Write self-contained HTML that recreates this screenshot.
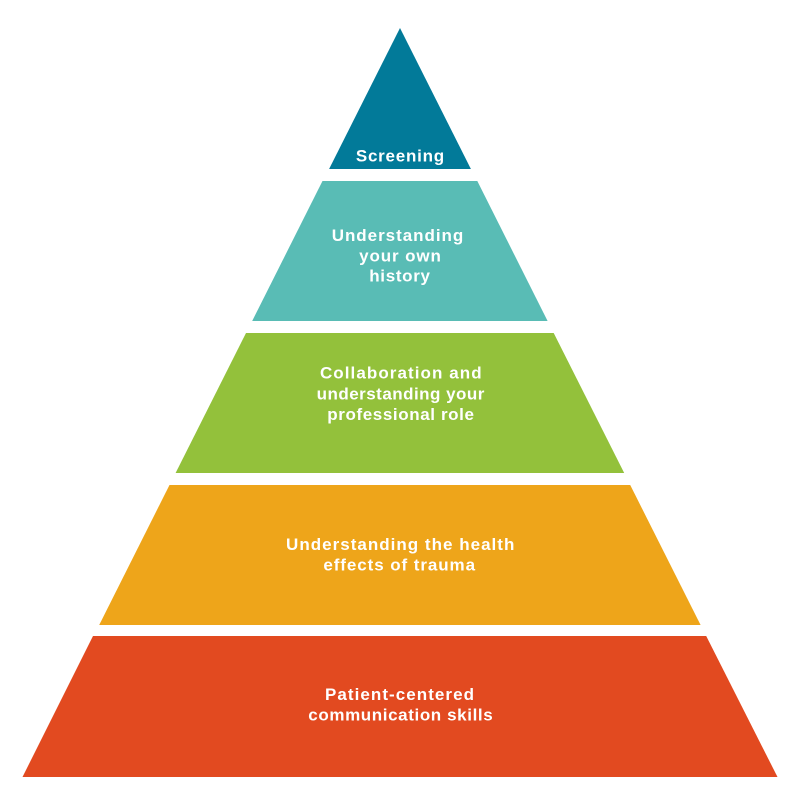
<!DOCTYPE html>
<html>
<head>
<meta charset="utf-8">
<style>
  html, body { margin: 0; padding: 0; background: #ffffff; }
  svg { display: block; }
  text { font-family: "Liberation Sans", sans-serif; font-weight: bold; font-size: 17px; fill: #ffffff; }
</style>
</head>
<body>
<svg width="800" height="800" viewBox="0 0 800 800" xmlns="http://www.w3.org/2000/svg">
  <rect width="800" height="800" fill="#ffffff"/>
  <polygon points="400,28 470.9,169 329.1,169" fill="#027A99"/>
  <polygon points="322.5,181 477.3,181 547.6,321 252.2,321" fill="#59BCB5"/>
  <polygon points="246,333 553.7,333 624.2,473 175.6,473" fill="#93C13B"/>
  <polygon points="169.5,485 630.2,485 700.6,625 99.2,625" fill="#EEA51A"/>
  <polygon points="93,636 706.2,636 777.5,777 22.5,777" fill="#E24A20"/>

  <text x="400" y="161.7" text-anchor="middle" textLength="88.3" lengthAdjust="spacing">Screening</text>

  <text x="397.5" y="241" text-anchor="middle" textLength="131.6" lengthAdjust="spacing">Understanding</text>
  <text x="400" y="261.5" text-anchor="middle" textLength="81.7" lengthAdjust="spacing">your own</text>
  <text x="399.6" y="281.7" text-anchor="middle" textLength="60.7" lengthAdjust="spacing">history</text>

  <text x="400.8" y="378.5" text-anchor="middle" textLength="161.7" lengthAdjust="spacing">Collaboration and</text>
  <text x="400.5" y="399.5" text-anchor="middle" textLength="167.7" lengthAdjust="spacing">understanding your</text>
  <text x="400.6" y="420" text-anchor="middle" textLength="146.7" lengthAdjust="spacing">professional role</text>

  <text x="400.2" y="550" text-anchor="middle" textLength="228.3" lengthAdjust="spacing">Understanding the health</text>
  <text x="399.2" y="570.7" text-anchor="middle" textLength="151.7" lengthAdjust="spacing">effects of trauma</text>

  <text x="399.5" y="700" text-anchor="middle" textLength="149" lengthAdjust="spacing">Patient-centered</text>
  <text x="400.5" y="720.5" text-anchor="middle" textLength="184.4" lengthAdjust="spacing">communication skills</text>
</svg>
</body>
</html>
